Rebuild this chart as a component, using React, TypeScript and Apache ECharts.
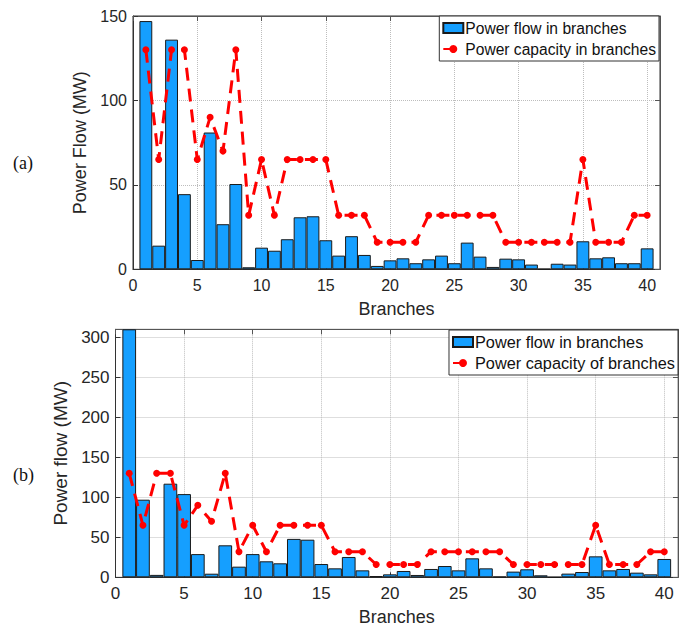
import React, { useEffect, useRef } from "react";
import * as echarts from "echarts";

const branches = [1, 2, 3, 4, 5, 6, 7, 8, 9, 10, 11, 12, 13, 14, 15, 16, 17, 18, 19, 20,
  21, 22, 23, 24, 25, 26, 27, 28, 29, 30, 31, 32, 33, 34, 35, 36, 37, 38, 39, 40];

const flowA = [147, 14, 136, 44.5, 5.5, 81, 26.7, 50.5, 1.2, 12.8, 11, 17.8, 30.8, 31.4, 17.2, 8.1, 19.6, 8.5, 2, 5.3,
  6.5, 3.6, 5.9, 8.1, 3.6, 15.8, 7.5, 1.4, 6.3, 5.9, 2.8, 0.2, 3.3, 2.8, 16.6, 6.5, 7.1, 3.6, 3.6, 12.4];

const flowB = [310, 97, 3, 117, 104, 29, 4.5, 40, 13.3, 29, 20, 17.5, 48, 47, 16.6, 11.2, 25.4, 8.7, 1.6, 3.7,
  7.9, 2.9, 10.4, 14.1, 8.7, 23.7, 11.2, 0.8, 7.1, 10, 2.5, 0.3, 4.6, 6.6, 26.2, 8.7, 10.4, 5.8, 3.7, 22.9];

const capacity = [130, 65, 130, 130, 65, 90, 70, 130, 32, 65, 32, 65, 65, 65, 65, 32, 32, 32, 16, 16,
  16, 16, 32, 32, 32, 32, 32, 32, 16, 16, 16, 16, 16, 16, 65, 16, 16, 16, 32, 32];

const xTicks = { min: 0, max: 41, interval: 5 };
const yTicksA = { min: 0, max: 150, interval: 50 };
const yTicksB = { min: 0, max: 310, interval: 50 };

const SANS = "'Liberation Sans', Arial, sans-serif";
const SERIF = "'Liberation Serif', 'Times New Roman', serif";
const BLUE = "#159fff";
const RED = "#ff0000";

export default function App() {
  const ref = useRef<HTMLDivElement>(null);
  useEffect(() => {
    if (!ref.current) return;
    const chart = echarts.init(ref.current, null, { renderer: "svg" });

    const W = 694;
    const gA = { left: 133, right: 34, top: 16, height: 253.3 };
    const gB = { left: 115.5, right: 16, top: 329.3, height: 248 };
    const bwA = (W - gA.left - gA.right) / 41;
    const bwB = (W - gB.left - gB.right) / 41;

    const mainX = (gi: number, fs: number) => ({
      type: "value",
      gridIndex: gi,
      ...xTicks,
      name: "Branches",
      nameLocation: "middle",
      nameGap: 31,
      nameTextStyle: { fontFamily: SANS, fontSize: 18, color: "#262626" },
      axisLine: { show: true, onZero: false, lineStyle: { color: "#333", width: 1 } },
      axisTick: { show: true, inside: true, length: 5, lineStyle: { color: "#333" } },
      axisLabel: { fontFamily: SANS, fontSize: fs, color: "#262626", margin: 8, showMaxLabel: false },
      splitLine: { show: true, lineStyle: { type: "dotted", color: "#bdbdbd", width: 1 } },
    });
    const sideX = (gi: number) => ({
      type: "value",
      gridIndex: gi,
      position: "top",
      ...xTicks,
      axisLine: { show: true, onZero: false, lineStyle: { color: "#555" } },
      axisTick: { show: true, inside: true, length: 5, lineStyle: { color: "#555" } },
      axisLabel: { show: false },
      splitLine: { show: false },
    });
    const mainY = (gi: number, t: any, name: string, gap: number, fs: number, nfs: number) => ({
      type: "value",
      gridIndex: gi,
      ...t,
      name,
      nameLocation: "middle",
      nameGap: gap,
      nameTextStyle: { fontFamily: SANS, fontSize: nfs, color: "#262626" },
      axisLine: { show: true, onZero: false, lineStyle: { color: "#333", width: 1 } },
      axisTick: { show: true, inside: true, length: 5, lineStyle: { color: "#333" } },
      axisLabel: { fontFamily: SANS, fontSize: fs, color: "#262626", margin: 6, showMaxLabel: t.max % t.interval === 0 },
      splitLine: { show: true, lineStyle: { type: "dotted", color: "#bdbdbd", width: 1 } },
    });
    const sideY = (gi: number, t: any) => ({
      type: "value",
      gridIndex: gi,
      position: "right",
      ...t,
      axisLine: { show: true, onZero: false, lineStyle: { color: "#555" } },
      axisTick: { show: true, inside: true, length: 5, lineStyle: { color: "#555" } },
      axisLabel: { show: false },
      splitLine: { show: false },
    });

    const legendBase = {
      orient: "vertical",
      backgroundColor: "#fff",
      borderColor: "#333",
      borderWidth: 1,
      borderRadius: 0,
      itemWidth: 20,
      itemHeight: 10,
      itemGap: 5,
      padding: [4, 3, 4, 3],
    };

    const barStyle = { color: BLUE, borderColor: "#1a1a1a", borderWidth: 1 };
    const lineSeries = (name: string, xi: number, yi: number) => ({
      type: "line",
      name,
      xAxisIndex: xi,
      yAxisIndex: yi,
      data: branches.map((b, i) => [b, capacity[i]]),
      symbol: "circle",
      symbolSize: 7,
      itemStyle: { color: RED },
      lineStyle: { color: RED, width: 3, type: [13, 8] },
      z: 5,
    });

    chart.setOption({
      animation: false,
      grid: [
        { ...gA, show: true, borderColor: "#333", borderWidth: 1, backgroundColor: "#fff" },
        { ...gB, show: true, borderColor: "#888", borderWidth: 1, backgroundColor: "#fff" },
      ],
      xAxis: [mainX(0, 16), sideX(0), mainX(1, 17), sideX(1)],
      yAxis: [
        mainY(0, yTicksA, "Power Flow (MW)", 42, 16, 18),
        sideY(0, yTicksA),
        mainY(1, yTicksB, "Power flow (MW)", 45, 17, 19),
        sideY(1, yTicksB),
      ],
      legend: [
        {
          ...legendBase,
          right: 35,
          top: 16,
          textStyle: { fontFamily: SANS, fontSize: 15.6, color: "#111", padding: [0, 0, 0, -3] },
          data: [
            { name: "Power flow in branches", icon: "rect" },
            { name: "Power capacity in branches" },
          ],
        },
        {
          ...legendBase,
          right: 16,
          top: 330,
          textStyle: { fontFamily: SANS, fontSize: 16.3, color: "#111", padding: [0, 0, 0, -3] },
          data: [
            { name: "Power flow in branches", icon: "rect" },
            { name: "Power capacity of branches" },
          ],
        },
      ],
      graphic: [
        { type: "text", left: 13, top: 154, style: { text: "(a)", fontFamily: SERIF, fontSize: 18, fill: "#111" } },
        { type: "text", left: 13, top: 466, style: { text: "(b)", fontFamily: SERIF, fontSize: 18, fill: "#111" } },
      ],
      series: [
        {
          type: "bar",
          name: "Power flow in branches",
          xAxisIndex: 0,
          yAxisIndex: 0,
          barWidth: bwA,
          data: branches.map((b, i) => [b, flowA[i]]),
          itemStyle: barStyle,
        },
        lineSeries("Power capacity in branches", 0, 0),
        {
          type: "bar",
          name: "Power flow in branches",
          xAxisIndex: 2,
          yAxisIndex: 2,
          barWidth: bwB,
          data: branches.map((b, i) => [b, flowB[i]]),
          itemStyle: barStyle,
        },
        lineSeries("Power capacity of branches", 2, 2),
      ],
    });
    return () => chart.dispose();
  }, []);
  return (
    <div
      ref={ref}
      style={{ position: "fixed", left: 0, top: 0, width: 694, height: 628, background: "#fff" }}
    />
  );
}
